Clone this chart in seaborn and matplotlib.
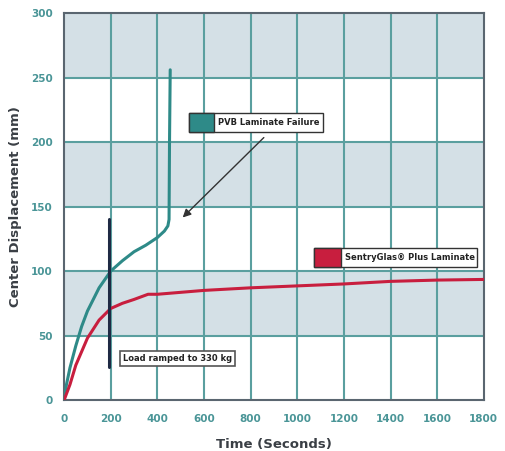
import matplotlib
matplotlib.use("Agg")
import matplotlib.pyplot as plt
import seaborn as sns
import pandas as pd
from matplotlib.patches import Rectangle

# Data
pvb_time = [0, 10, 25, 50, 75, 100, 150, 200, 250, 300, 350, 400, 430, 445, 450, 452, 455]
pvb_disp = [0, 12, 25, 42, 57, 69, 87, 100, 108, 115, 120, 126, 131, 135, 140, 200, 256]
sg_time = [0, 25, 50, 100, 150, 200, 250, 300, 360, 400, 600, 800, 1000, 1200, 1400, 1600, 1800]
sg_disp = [0, 12, 27, 48, 62, 71, 75, 78, 82, 82, 85, 87, 88.5, 90, 92, 93, 93.5]
load_time = [193, 193]
load_disp = [26, 140]
x_ticks = [0, 200, 400, 600, 800, 1000, 1200, 1400, 1600, 1800]
y_ticks = [0, 50, 100, 150, 200, 250, 300]
series_names = ["PVB Laminate Failure", "SentryGlas\u00ae Plus Laminate"]
note_text = "Load ramped to 330 kg"

teal = "#2e8a88"
red = "#c81e3e"
grid_c = "#5a9f9f"
band_c = "#d4e0e6"
tick_c = "#4a9597"
navy = "#1f2a44"

df = pd.concat([
    pd.DataFrame({"Time": pvb_time, "Disp": pvb_disp, "Series": series_names[0]}),
    pd.DataFrame({"Time": sg_time, "Disp": sg_disp, "Series": series_names[1]}),
])

sns.set_style("white")
plt.rcParams["font.family"] = ["DejaVu Sans"]

fig = plt.figure(figsize=(5.05, 4.51), dpi=100)
ax = fig.add_axes([0.127, 0.113, 0.831, 0.858])

# alternating bands
for lo in [50, 150, 250]:
    ax.axhspan(lo, lo + 50, color=band_c, zorder=0, lw=0)

for xv in x_ticks[1:-1]:
    ax.axvline(xv, color=grid_c, lw=1.5, zorder=1)
for yv in y_ticks[1:-1]:
    ax.axhline(yv, color=grid_c, lw=1.5, zorder=1)

sns.lineplot(data=df, x="Time", y="Disp", hue="Series", palette=[teal, red],
             sort=False, estimator=None, lw=2.2, ax=ax, legend=False, zorder=3)
ax.plot(load_time, load_disp, color=navy, lw=2.2, zorder=4)

ax.set_xlim(0, 1800)
ax.set_ylim(0, 300)
ax.set_xticks(x_ticks)
ax.set_yticks(y_ticks)
ax.tick_params(axis="both", colors=tick_c, labelsize=7.5, length=0)
ax.tick_params(axis="x", pad=10)
ax.tick_params(axis="y", pad=8)
for lbl in ax.get_xticklabels() + ax.get_yticklabels():
    lbl.set_fontweight("bold")
for s in ax.spines.values():
    s.set_color("#5a6670")
    s.set_linewidth(1.5)

ax.set_xlabel("Time (Seconds)", fontsize=9.5, fontweight="bold", color="#3a3f45", labelpad=10)
ax.set_ylabel("Center Displacement (mm)", fontsize=9.5, fontweight="bold", color="#3a3f45", labelpad=7)

def key_box(x0, y0, w, h, sw, color, text):
    ax.add_patch(Rectangle((x0, y0), w, h, transform=ax.transAxes, facecolor="white",
                           edgecolor="#333333", lw=1.0, zorder=6))
    ax.add_patch(Rectangle((x0, y0), sw, h, transform=ax.transAxes, facecolor=color,
                           edgecolor="#333333", lw=1.0, zorder=7))
    ax.text(x0 + sw + 0.01, y0 + h / 2, text, transform=ax.transAxes, fontsize=6,
            fontweight="bold", color="#222222", va="center", ha="left", zorder=8)

key_box(0.297, 0.693, 0.321, 0.049, 0.06, teal, series_names[0])
key_box(0.595, 0.345, 0.388, 0.049, 0.064, red, series_names[1])

ax.text(0.140, 0.108, note_text, transform=ax.transAxes, fontsize=6, fontweight="bold",
        color="#222222", va="center", ha="left", zorder=8,
        bbox=dict(boxstyle="square,pad=0.35", fc="white", ec="#555555", lw=1.2))

ax.annotate("", xy=(500, 140), xytext=(865, 205),
            arrowprops=dict(arrowstyle="-|>", color="#333333", lw=1.0, mutation_scale=12),
            zorder=8)

fig.savefig("out.png", dpi=100)
